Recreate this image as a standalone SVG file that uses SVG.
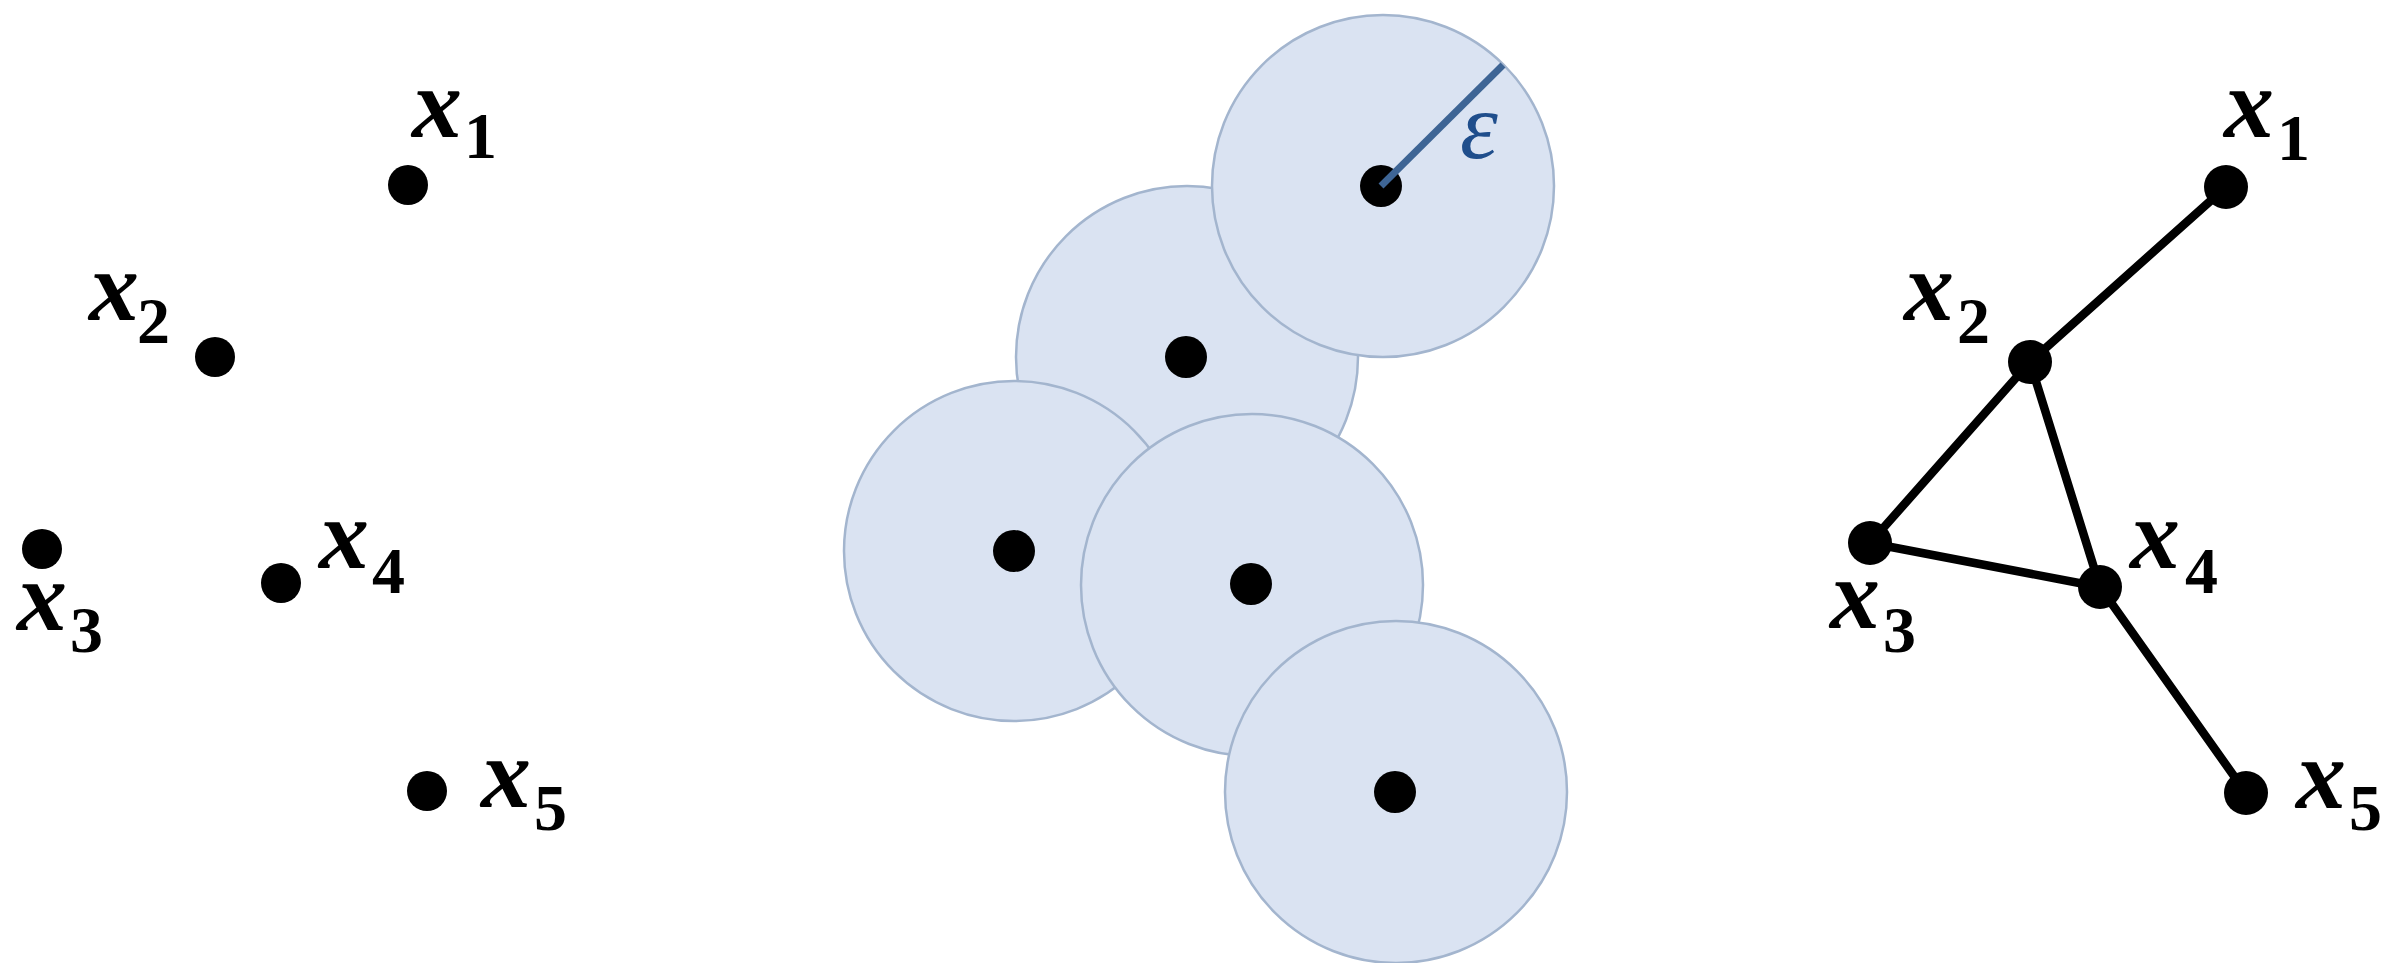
<svg xmlns="http://www.w3.org/2000/svg" width="2404" height="963" viewBox="0 0 2404 963">
<style>
.dot{fill:#000}
.ball{fill:#DAE3F2;stroke:#A3B5CE;stroke-width:2.5}
.edge{stroke:#000;stroke-width:8.5;stroke-linecap:round}
.lbl{font-family:"Liberation Serif","Times New Roman",serif;fill:#000}
.v{font-style:italic;font-weight:bold;font-size:100px}
.s{font-style:normal;font-weight:bold;font-size:66px}
.eps{font-family:"Liberation Serif","Times New Roman",serif;font-style:italic;font-size:96px;fill:#1F4E8C}
</style>
<rect width="2404" height="963" fill="#fff"/>

<!-- Left panel: points -->
<g id="left-x1"><circle class="dot" cx="408" cy="185" r="20"/><text class="lbl"><tspan class="v" x="412" y="137">x</tspan><tspan class="s" x="464" y="158">1</tspan></text></g>
<g id="left-x2"><circle class="dot" cx="215" cy="357" r="20"/><text class="lbl"><tspan class="v" x="89" y="320">x</tspan><tspan class="s" x="137" y="343">2</tspan></text></g>
<g id="left-x3"><circle class="dot" cx="42" cy="549" r="20"/><text class="lbl"><tspan class="v" x="17" y="630">x</tspan><tspan class="s" x="70" y="652">3</tspan></text></g>
<g id="left-x4"><circle class="dot" cx="281" cy="583" r="20"/><text class="lbl"><tspan class="v" x="319" y="568">x</tspan><tspan class="s" x="372" y="593">4</tspan></text></g>
<g id="left-x5"><circle class="dot" cx="427" cy="791" r="20"/><text class="lbl"><tspan class="v" x="481" y="807">x</tspan><tspan class="s" x="534" y="830">5</tspan></text></g>

<!-- Middle panel: epsilon balls -->
<g id="ball-x2"><circle class="ball" cx="1187" cy="357" r="171"/><circle class="dot" cx="1186" cy="357" r="21"/></g>
<g id="ball-x1"><circle class="ball" cx="1383" cy="186" r="171"/><circle class="dot" cx="1381" cy="186" r="21"/>
<line x1="1381" y1="186" x2="1503" y2="65" stroke="#3E6595" stroke-width="7"/>
<text class="eps" x="1460" y="158">ε</text></g>
<g id="ball-x3"><circle class="ball" cx="1014" cy="551" r="170"/><circle class="dot" cx="1014" cy="551" r="21"/></g>
<g id="ball-x4"><circle class="ball" cx="1252" cy="585" r="171"/><circle class="dot" cx="1251" cy="584" r="21"/></g>
<g id="ball-x5"><circle class="ball" cx="1396" cy="792" r="171"/><circle class="dot" cx="1395" cy="792" r="21"/></g>

<!-- Right panel: graph -->
<g id="edges">
<line class="edge" x1="2226" y1="187" x2="2030" y2="362"/>
<line class="edge" x1="2030" y1="362" x2="1870" y2="543"/>
<line class="edge" x1="2030" y1="362" x2="2100" y2="587"/>
<line class="edge" x1="1870" y1="543" x2="2100" y2="587"/>
<line class="edge" x1="2100" y1="587" x2="2246" y2="793"/>
</g>
<g id="right-x1"><circle class="dot" cx="2226" cy="187" r="22"/><text class="lbl"><tspan class="v" x="2224" y="137">x</tspan><tspan class="s" x="2277" y="160">1</tspan></text></g>
<g id="right-x2"><circle class="dot" cx="2030" cy="362" r="22"/><text class="lbl"><tspan class="v" x="1904" y="320">x</tspan><tspan class="s" x="1957" y="343">2</tspan></text></g>
<g id="right-x3"><circle class="dot" cx="1870" cy="543" r="22"/><text class="lbl"><tspan class="v" x="1830" y="628">x</tspan><tspan class="s" x="1883" y="652">3</tspan></text></g>
<g id="right-x4"><circle class="dot" cx="2100" cy="587" r="22"/><text class="lbl"><tspan class="v" x="2130" y="568">x</tspan><tspan class="s" x="2185" y="593">4</tspan></text></g>
<g id="right-x5"><circle class="dot" cx="2246" cy="793" r="22"/><text class="lbl"><tspan class="v" x="2296" y="808">x</tspan><tspan class="s" x="2349" y="830">5</tspan></text></g>
</svg>
